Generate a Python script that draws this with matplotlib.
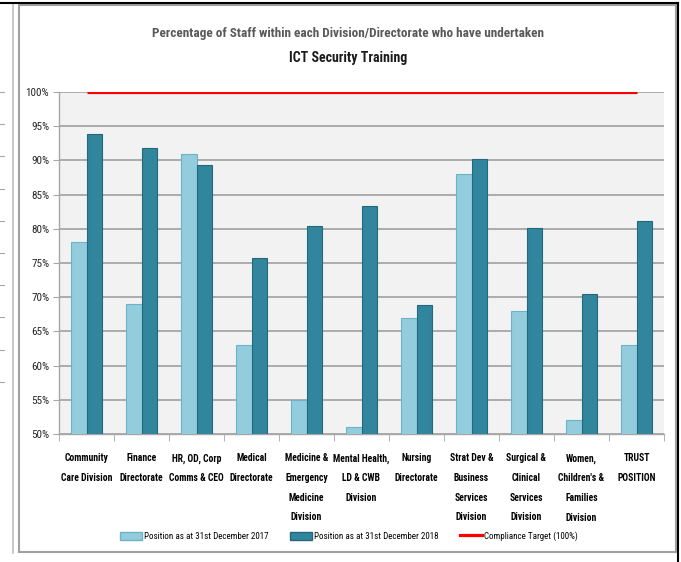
import matplotlib
matplotlib.use("Agg")
import matplotlib.pyplot as plt
import numpy as np
from matplotlib import font_manager
from matplotlib.patches import Patch, Rectangle
from matplotlib.lines import Line2D

# Data
categories = [
    "Community\nCare Division",
    "Finance\nDirectorate",
    "HR, OD, Corp\nComms & CEO",
    "Medical\nDirectorate",
    "Medicine &\nEmergency\nMedicine\nDivision",
    "Mental Health,\nLD & CWB\nDivision",
    "Nursing\nDirectorate",
    "Strat Dev &\nBusiness\nServices\nDivision",
    "Surgical &\nClinical\nServices\nDivision",
    "Women,\nChildren's &\nFamilies\nDivision",
    "TRUST\nPOSITION",
]
pos_2017 = [78, 69, 91, 63, 55, 51, 67, 88, 68, 52, 63]
pos_2018 = [93.8, 91.8, 89.4, 75.8, 80.4, 83.3, 68.9, 90.2, 80.1, 70.4, 81.2]
target = [100] * len(categories)

labels = [
    "Position as at 31st December 2017",
    "Position as at 31st December 2018",
    "Compliance Target (100%)",
]

# pick a narrow font if available
names = {f.name for f in font_manager.fontManager.ttflist}
font = "DejaVu Sans"
for cand in ["Liberation Sans Narrow", "Roboto Condensed", "Open Sans Condensed", "Liberation Sans"]:
    if cand in names:
        font = cand
        break
plt.rcParams["font.family"] = [font, "DejaVu Sans"]

light = "#93CDDD"
dark = "#31859C"

fig = plt.figure(figsize=(6.81, 5.62), dpi=100)
ax = fig.add_axes([59 / 681, 1 - 434 / 562, 605 / 681, 342 / 562])
ax.set_facecolor("#F2F2F2")

x = np.arange(len(categories))
w = 0.29
ax.bar(x - w / 2, pos_2017, w, bottom=0, color=light, edgecolor="#6CB3C9", linewidth=0.8, zorder=3)
ax.bar(x + w / 2, pos_2018, w, bottom=0, color=dark, edgecolor="#23697C", linewidth=0.8, zorder=3)
ax.plot(x, target, color="#FF0000", linewidth=2.3, zorder=4, solid_capstyle="butt")

ax.set_xlim(-0.5, len(categories) - 0.5)
ax.set_ylim(50, 100)
ax.set_yticks(np.arange(50, 101, 5))
ax.set_yticklabels([f"{v}%" for v in range(50, 101, 5)], fontsize=8, color="#262626")
ax.yaxis.grid(True, color="#A6A6A6", linewidth=1.3, zorder=1)
ax.set_axisbelow(True)

ax.set_xticks(x)
ax.set_xticklabels(categories, fontsize=6.9, fontweight="bold", linespacing=2.2, va="top")
ax.tick_params(axis="x", length=0, pad=14)
ax.set_xticks(np.arange(-0.5, len(categories)), minor=True)
ax.tick_params(axis="x", which="minor", length=5, color="#A6A6A6")
ax.tick_params(axis="y", length=4, color="#A6A6A6", pad=3)

for s in ["top", "right"]:
    ax.spines[s].set_visible(False)
for s in ["left", "bottom"]:
    ax.spines[s].set_color("#A6A6A6")
    ax.spines[s].set_linewidth(1.0)

# title
fig.text(348 / 681, 1 - 33 / 562,
         "Percentage of Staff within each Division/Directorate who have undertaken",
         ha="center", va="center", fontsize=9.5, fontweight="bold", color="#595959")
fig.text(348 / 681, 1 - 58 / 562, "ICT Security Training",
         ha="center", va="center", fontsize=10, fontweight="bold", color="#1a1a1a")

# legend
handles = [
    Patch(facecolor=light, edgecolor="#6CB3C9"),
    Patch(facecolor=dark, edgecolor="#23697C"),
    Line2D([0], [0], color="#FF0000", linewidth=2.3),
]
fig.legend(handles, labels, loc="center", bbox_to_anchor=(349 / 681, 1 - 536 / 562), ncol=3,
           frameon=False, fontsize=6.5, handlelength=2.4, handleheight=1.0,
           handletextpad=0.25, columnspacing=2.4)

# outer frames
fig.add_artist(Rectangle((19 / 681, 1 - 552 / 562), 657 / 681, 547 / 562,
                         transform=fig.transFigure, fill=False, edgecolor="#A0A0A0", linewidth=1.5))
fig.add_artist(Line2D([13 / 681, 13 / 681], [1 - 553 / 562, 1 - 4 / 562], transform=fig.transFigure,
                      color="#BFBFBF", linewidth=1.2))
fig.add_artist(Line2D([0, 678 / 681], [1 - 3 / 562, 1 - 3 / 562], transform=fig.transFigure,
                      color="black", linewidth=1.5))
fig.add_artist(Line2D([678 / 681, 678 / 681], [0, 1 - 3 / 562], transform=fig.transFigure,
                      color="black", linewidth=1.5))
# stray axis ticks of a neighbouring chart at the left edge
for k in range(10):
    yy = 1 - (92 + 32.2 * k) / 562
    fig.add_artist(Line2D([0, 4 / 681], [yy, yy], transform=fig.transFigure,
                          color="#A6A6A6", linewidth=0.8))

fig.savefig("out.png", dpi=100)
